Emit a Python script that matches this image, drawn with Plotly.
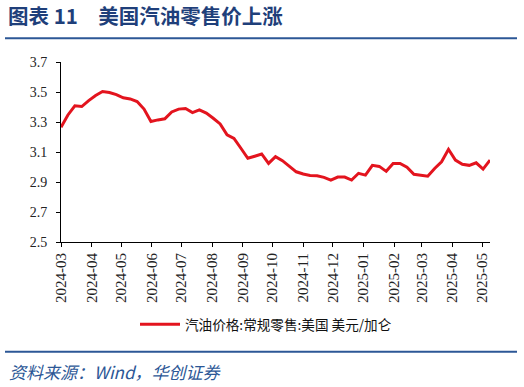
import pandas as pd
import plotly.graph_objects as go

# ---- data ----
start_date = "2024-03-04"
n_weeks = 63
dates = pd.date_range(start_date, periods=n_weeks, freq="7D")
gas_price = [
    3.265, 3.347, 3.408, 3.403, 3.443, 3.477, 3.503, 3.497, 3.483, 3.461,
    3.454, 3.436, 3.386, 3.303, 3.314, 3.321, 3.367, 3.386, 3.390, 3.363,
    3.381, 3.359, 3.325, 3.287, 3.214, 3.190, 3.125, 3.058, 3.072, 3.087,
    3.024, 3.069, 3.042, 3.002, 2.968, 2.953, 2.944, 2.941, 2.931, 2.913,
    2.933, 2.933, 2.913, 2.958, 2.946, 3.011, 3.004, 2.971, 3.024, 3.024,
    2.998, 2.951, 2.944, 2.939, 2.990, 3.035, 3.118, 3.046, 3.018, 3.011,
    3.028, 2.986, 3.046,
]
series_name = "汽油价格:常规零售:美国 美元/加仑"
title_text = "图表 11　美国汽油零售价上涨"
source_text = "资料来源：Wind，华创证券"
y_ticks = [2.5, 2.7, 2.9, 3.1, 3.3, 3.5, 3.7]

# ---- layout geometry (pixels) ----
W, H = 524, 387
L, R, T, B = 61, 34, 62, 145
PW, PH = W - L - R, H - T - B


def px(x):
    return (x - L) / PW


def py(y):
    return (H - B - y) / PH


RED = "#E3141E"
BLUE = "#2C5796"
TITLE_BLUE = "#1F3F7A"
SERIF = "Liberation Serif, Times New Roman, serif"
CJK = "Noto Sans CJK SC, sans-serif"

fig = go.Figure()
fig.add_trace(go.Scatter(
    x=dates, y=gas_price, mode="lines", name=series_name,
    line=dict(color=RED, width=3), showlegend=False,
))

fig.update_layout(
    width=W, height=H,
    margin=dict(l=L, r=R, t=T, b=B),
    paper_bgcolor="white", plot_bgcolor="white",
    xaxis=dict(
        type="date", range=[dates[0], dates[-1]],
        tick0=start_date, dtick="M1", tickformat="%Y-%m",
        tickangle=-90, ticks="outside", ticklen=4, tickcolor="black",
        showline=True, linecolor="black", linewidth=1,
        showgrid=False, zeroline=False,
        tickfont=dict(family=SERIF, size=15, color="#222222"),
    ),
    yaxis=dict(
        range=[2.5, 3.7], tickvals=y_ticks, tickformat=".1f",
        ticks="outside", ticklen=4, tickcolor="black",
        showline=True, linecolor="black", linewidth=1,
        showgrid=False, zeroline=False,
        tickfont=dict(family=SERIF, size=14, color="#222222"),
        ticklabelstandoff=6,
    ),
)

shapes = [
    # header rule
    dict(type="line", xref="paper", yref="paper", x0=px(5), x1=px(517),
         y0=py(38.3), y1=py(38.3), line=dict(color=BLUE, width=2)),
    # footer rule
    dict(type="line", xref="paper", yref="paper", x0=px(5), x1=px(517),
         y0=py(351.7), y1=py(351.7), line=dict(color=BLUE, width=2)),
    # legend swatch
    dict(type="line", xref="paper", yref="paper", x0=px(140), x1=px(180),
         y0=py(324.3), y1=py(324.3), line=dict(color=RED, width=3)),
]
annotations = [
    dict(text="<b>" + title_text + "</b>", xref="paper", yref="paper",
         x=px(6), y=py(15), xanchor="left", yanchor="middle", showarrow=False,
         font=dict(family=CJK, size=20.5, color=TITLE_BLUE)),
    dict(text=series_name, xref="paper", yref="paper",
         x=px(183), y=py(324.3), xanchor="left", yanchor="middle", showarrow=False,
         font=dict(family=CJK, size=13.6, color="#111111")),
    dict(text="<i>" + source_text + "</i>", xref="paper", yref="paper",
         x=px(7), y=py(371.5), xanchor="left", yanchor="middle", showarrow=False,
         font=dict(family=CJK, size=17, color=BLUE)),
]
fig.update_layout(shapes=shapes, annotations=annotations)

fig.write_html(
    "out.html",
    config={"displayModeBar": False},
    post_script="document.body.style.margin='0';document.body.style.padding='0';",
)
